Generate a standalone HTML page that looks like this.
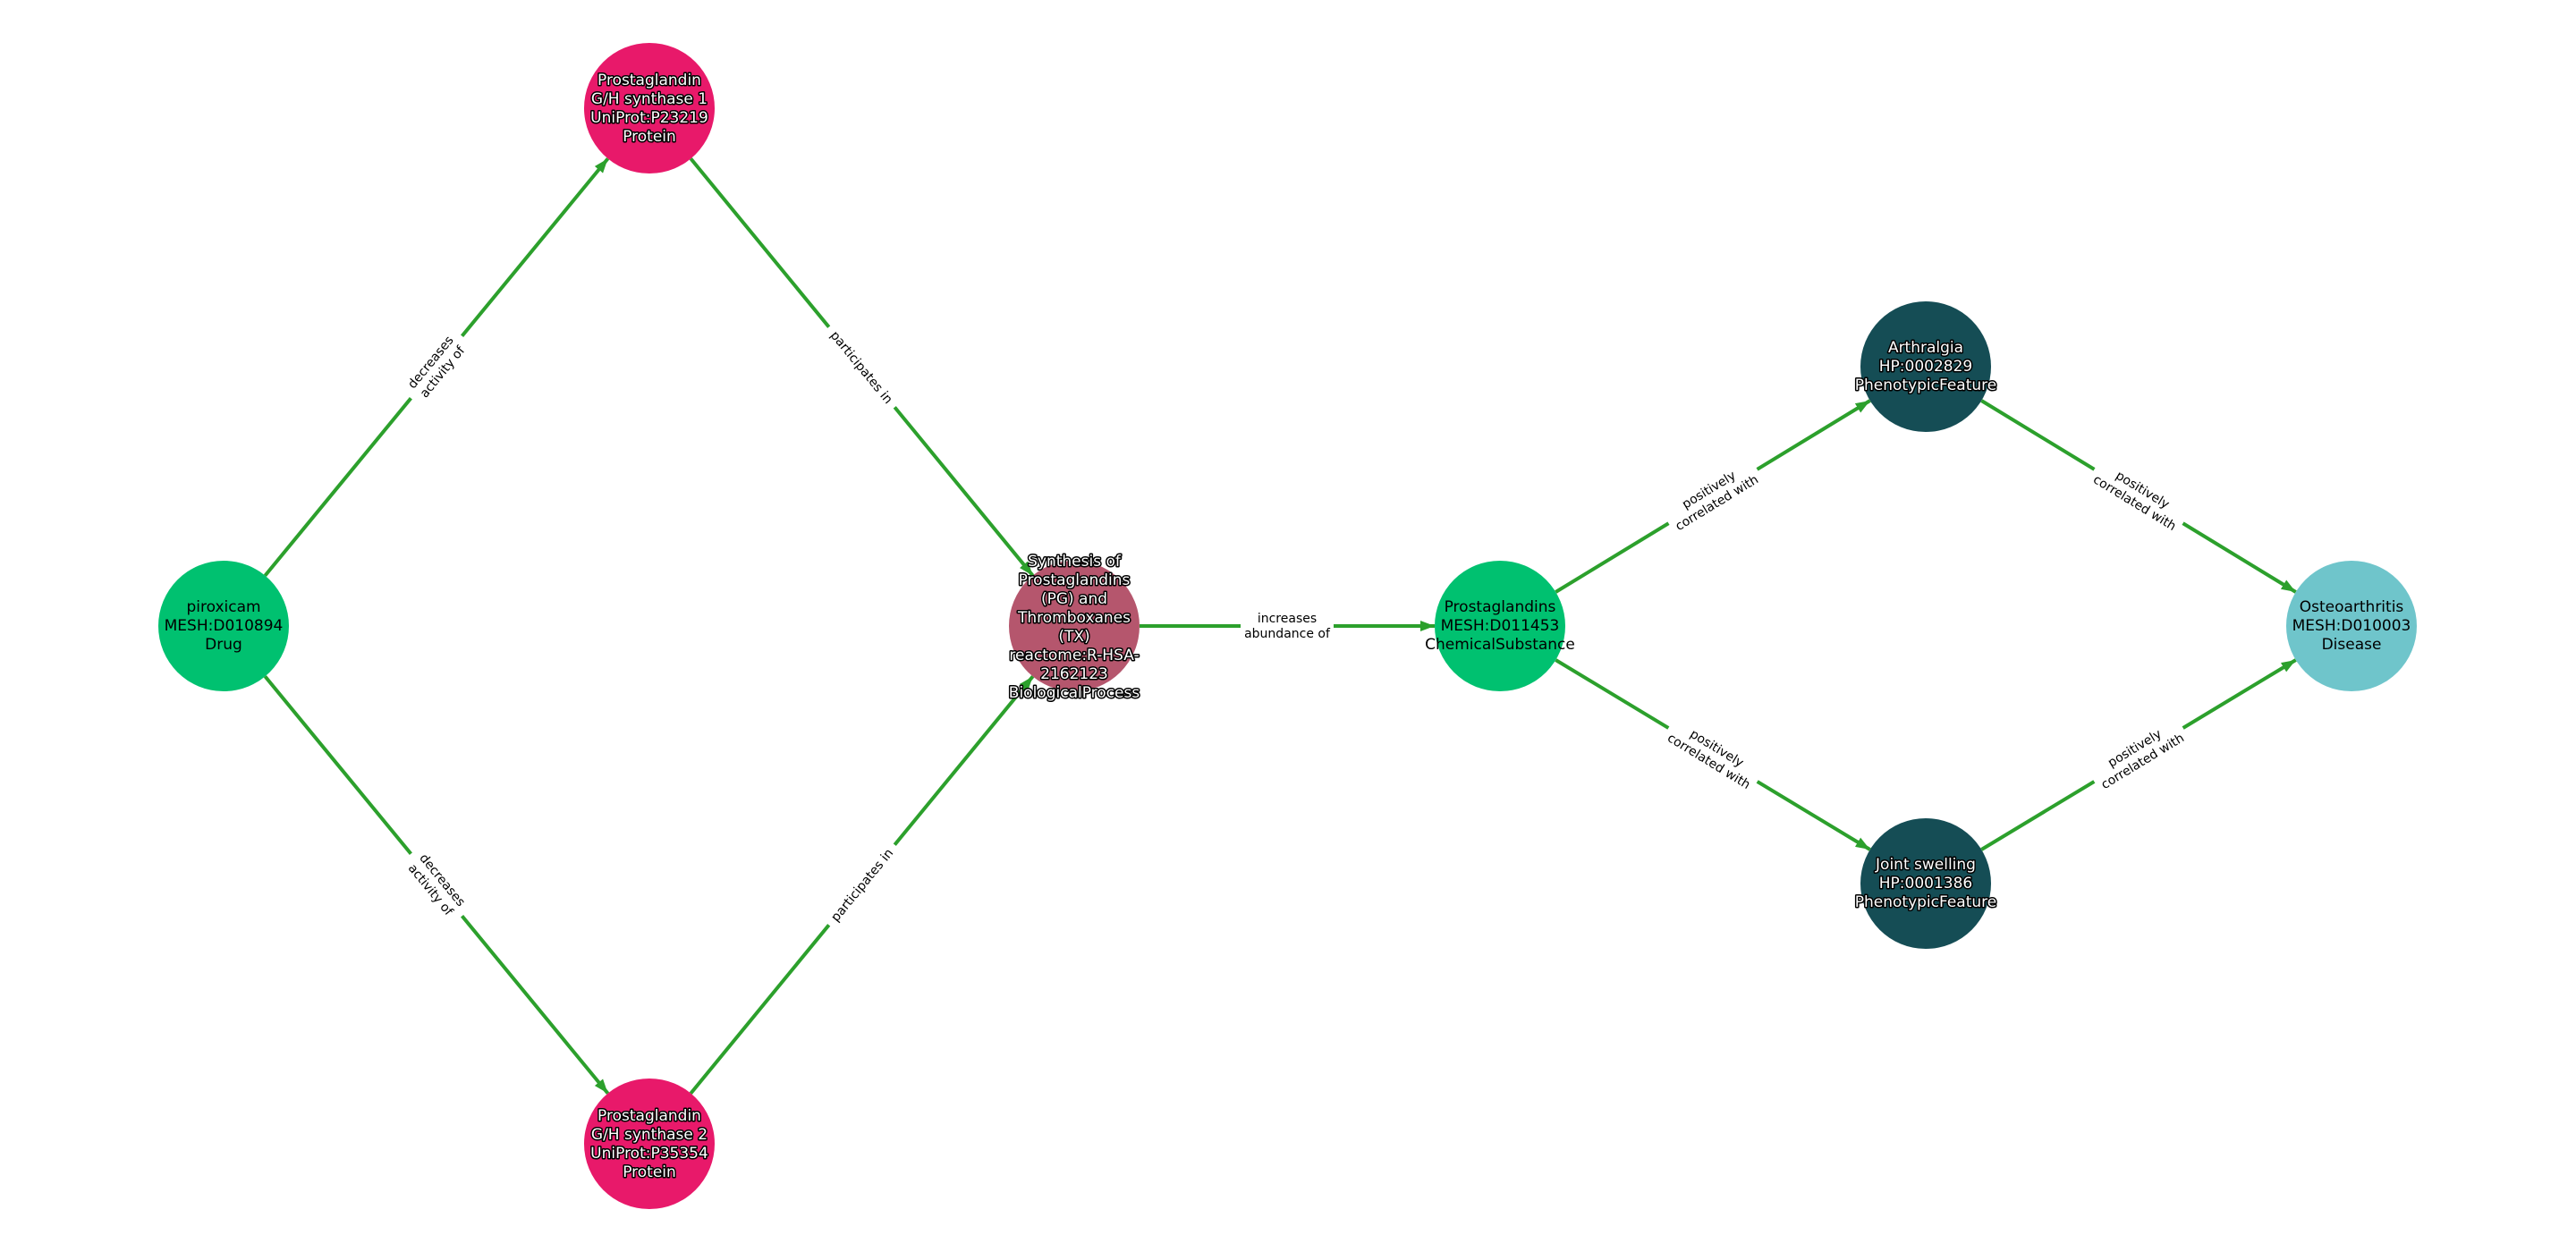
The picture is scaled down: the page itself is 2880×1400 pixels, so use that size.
<!DOCTYPE html>
<html><head><meta charset="utf-8"><style>
html,body{margin:0;padding:0;background:#fff;}
svg{display:block;font-family:"DejaVu Sans","Liberation Sans",sans-serif;}
.nl{font-size:17px;text-anchor:middle;}
.w{fill:#fff;stroke:#000;stroke-width:3px;paint-order:stroke;stroke-linejoin:round;}
.b{fill:#000;}
.el{font-size:14px;text-anchor:middle;fill:#000;}
.e{stroke:#2ca02c;stroke-width:4;fill:none;marker-end:url(#ah);}
</style></head><body>
<svg width="2880" height="1400" viewBox="0 0 2880 1400" xmlns="http://www.w3.org/2000/svg">
<defs><marker id="ah" markerUnits="userSpaceOnUse" markerWidth="18" markerHeight="14" refX="16" refY="6" orient="auto"><path d="M0,0 L16,6 L0,12 z" fill="#2ca02c"/></marker></defs>
<rect width="2880" height="1400" fill="#fff"/>
<line class="e" x1="296.4" y1="643.6" x2="679.6" y2="177.4"/>
<line class="e" x1="296.4" y1="756.4" x2="679.6" y2="1222.6"/>
<line class="e" x1="772.3" y1="177.4" x2="1154.7" y2="643.6"/>
<line class="e" x1="772.3" y1="1222.6" x2="1154.7" y2="756.4"/>
<line class="e" x1="1274" y1="700" x2="1604" y2="700"/>
<line class="e" x1="1739.3" y1="662" x2="2090.7" y2="448"/>
<line class="e" x1="1739.3" y1="738" x2="2090.7" y2="950"/>
<line class="e" x1="2215.3" y1="448" x2="2566.7" y2="662"/>
<line class="e" x1="2215.3" y1="950" x2="2566.7" y2="738"/>

<g transform="translate(488,410.5) rotate(-50.6)"><rect x="-45" y="-20" width="90" height="40" fill="#fff"/><text class="el" y="-4">decreases</text><text class="el" y="13">activity of</text></g>
<g transform="translate(488,989.5) rotate(50.6)"><rect x="-45" y="-20" width="90" height="40" fill="#fff"/><text class="el" y="-4">decreases</text><text class="el" y="13">activity of</text></g>
<g transform="translate(963.5,410.5) rotate(50.6)"><rect x="-58" y="-11" width="116" height="22" fill="#fff"/><text class="el" y="5">participates in</text></g>
<g transform="translate(963.5,989.5) rotate(-50.6)"><rect x="-58" y="-11" width="116" height="22" fill="#fff"/><text class="el" y="5">participates in</text></g>
<g transform="translate(1439,700)"><rect x="-52" y="-20" width="104" height="40" fill="#fff"/><text class="el" y="-4">increases</text><text class="el" y="13">abundance of</text></g>
<g transform="translate(1915,555) rotate(-31.4)"><rect x="-58" y="-20" width="116" height="40" fill="#fff"/><text class="el" y="-4">positively</text><text class="el" y="13">correlated with</text></g>
<g transform="translate(1915,844) rotate(31.4)"><rect x="-58" y="-20" width="116" height="40" fill="#fff"/><text class="el" y="-4">positively</text><text class="el" y="13">correlated with</text></g>
<g transform="translate(2391,555) rotate(31.4)"><rect x="-58" y="-20" width="116" height="40" fill="#fff"/><text class="el" y="-4">positively</text><text class="el" y="13">correlated with</text></g>
<g transform="translate(2391,844) rotate(-31.4)"><rect x="-58" y="-20" width="116" height="40" fill="#fff"/><text class="el" y="-4">positively</text><text class="el" y="13">correlated with</text></g>

<circle cx="250" cy="700" r="73" fill="#00c170"/>
<text class="nl b"><tspan x="250" y="684">piroxicam</tspan><tspan x="250" y="705">MESH:D010894</tspan><tspan x="250" y="726">Drug</tspan></text>

<circle cx="726" cy="121" r="73" fill="#e8196a"/>
<text class="nl w"><tspan x="726" y="95">Prostaglandin</tspan><tspan x="726" y="116">G/H synthase 1</tspan><tspan x="726" y="137">UniProt:P23219</tspan><tspan x="726" y="158">Protein</tspan></text>

<circle cx="726" cy="1279" r="73" fill="#e8196a"/>
<text class="nl w"><tspan x="726" y="1253">Prostaglandin</tspan><tspan x="726" y="1274">G/H synthase 2</tspan><tspan x="726" y="1295">UniProt:P35354</tspan><tspan x="726" y="1316">Protein</tspan></text>

<circle cx="1201" cy="700" r="73" fill="#b5566d"/>
<text class="nl w"><tspan x="1201" y="633">Synthesis of</tspan><tspan x="1201" y="654">Prostaglandins</tspan><tspan x="1201" y="675">(PG) and</tspan><tspan x="1201" y="696">Thromboxanes</tspan><tspan x="1201" y="717">(TX)</tspan><tspan x="1201" y="738">reactome:R-HSA-</tspan><tspan x="1201" y="759">2162123</tspan><tspan x="1201" y="780">BiologicalProcess</tspan></text>

<circle cx="1677" cy="700" r="73" fill="#00c170"/>
<text class="nl b"><tspan x="1677" y="684">Prostaglandins</tspan><tspan x="1677" y="705">MESH:D011453</tspan><tspan x="1677" y="726">ChemicalSubstance</tspan></text>

<circle cx="2153" cy="410" r="73" fill="#154d55"/>
<text class="nl w"><tspan x="2153" y="394">Arthralgia</tspan><tspan x="2153" y="415">HP:0002829</tspan><tspan x="2153" y="436">PhenotypicFeature</tspan></text>

<circle cx="2153" cy="988" r="73" fill="#154d55"/>
<text class="nl w"><tspan x="2153" y="972">Joint swelling</tspan><tspan x="2153" y="993">HP:0001386</tspan><tspan x="2153" y="1014">PhenotypicFeature</tspan></text>

<circle cx="2629" cy="700" r="73" fill="#6fc5cb"/>
<text class="nl b"><tspan x="2629" y="684">Osteoarthritis</tspan><tspan x="2629" y="705">MESH:D010003</tspan><tspan x="2629" y="726">Disease</tspan></text>
</svg>
</body></html>
